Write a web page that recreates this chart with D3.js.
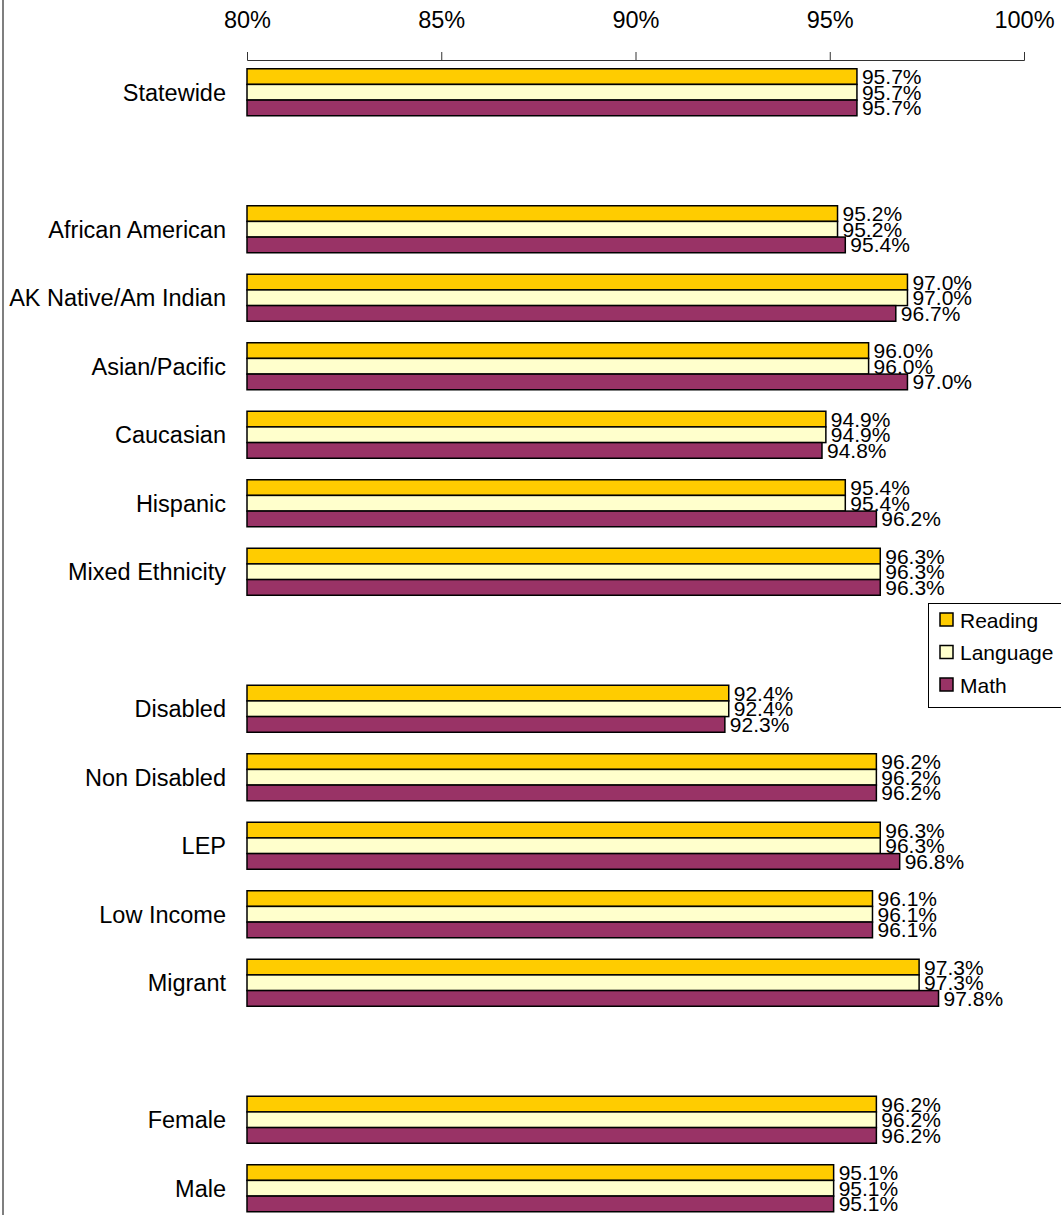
<!DOCTYPE html>
<html>
<head>
<meta charset="utf-8">
<script src="https://cdn.jsdelivr.net/npm/d3@7"></script>
<style>
  html, body { margin: 0; padding: 0; background: #fff; }
  svg { display: block; font-family: "Liberation Sans", Arial, sans-serif; }
</style>
</head>
<body>
<svg id="chart" width="1061" height="1215"></svg>
<script>
// ---- data ----
const groups = [
  ["Statewide"],
  ["African American", "AK Native/Am Indian", "Asian/Pacific", "Caucasian", "Hispanic", "Mixed Ethnicity"],
  ["Disabled", "Non Disabled", "LEP", "Low Income", "Migrant"],
  ["Female", "Male"]
];
const categories = ["Statewide", "African American", "AK Native/Am Indian", "Asian/Pacific", "Caucasian",
  "Hispanic", "Mixed Ethnicity", "Disabled", "Non Disabled", "LEP", "Low Income", "Migrant", "Female", "Male"];
const reading  = [95.7, 95.2, 97.0, 96.0, 94.9, 95.4, 96.3, 92.4, 96.2, 96.3, 96.1, 97.3, 96.2, 95.1];
const language = [95.7, 95.2, 97.0, 96.0, 94.9, 95.4, 96.3, 92.4, 96.2, 96.3, 96.1, 97.3, 96.2, 95.1];
const math     = [95.7, 95.4, 96.7, 97.0, 94.8, 96.2, 96.3, 92.3, 96.2, 96.8, 96.1, 97.8, 96.2, 95.1];
const seriesNames = ["Reading", "Language", "Math"];
const seriesColors = ["#FFCC00", "#FFFFCC", "#993366"];
const tickValues = [80, 85, 90, 95, 100];
const tickLabels = ["80%", "85%", "90%", "95%", "100%"];

const seriesData = [reading, language, math];

// ---- layout ----
const svg = d3.select("#chart");
const xLeft = 247, xRight = 1024, axisY = 60;
const step = 68.5, groupH = 47;

// slot domain with spacer slots between groups
const slots = [];
groups.forEach((g, gi) => {
  if (gi > 0) slots.push("__gap" + gi);
  g.forEach(c => slots.push(c));
});

const x = d3.scaleLinear().domain([80, 100]).range([xLeft, xRight]);
const y = d3.scaleBand().domain(slots).range([58, 58 + step * slots.length]).paddingInner(0).paddingOuter(0);
const ySub = d3.scaleBand().domain(seriesNames).range([0, groupH]);
const bandOffset = (y.bandwidth() - groupH) / 2;

// left border
svg.append("line").attr("x1", 3).attr("x2", 3).attr("y1", 0).attr("y2", 1215)
  .attr("stroke", "#555").attr("stroke-width", 1.5);

// axis
const axis = d3.axisTop(x).tickValues(tickValues)
  .tickFormat((d, i) => tickLabels[i]).tickSize(8).tickSizeOuter(8).tickPadding(24);
const gAxis = svg.append("g").attr("transform", `translate(0,${axisY})`).call(axis);
gAxis.select(".domain").attr("stroke", "#333").attr("stroke-width", 1);
gAxis.selectAll(".tick line").attr("stroke", "#333").attr("stroke-width", 1);
gAxis.selectAll(".tick text").attr("font-size", 23.5).attr("fill", "#000")
  .attr("font-family", '"Liberation Sans", Arial, sans-serif');

// rows
categories.forEach((cat, ci) => {
  const top = y(cat) + bandOffset;
  svg.append("text")
    .attr("x", 226).attr("y", top + groupH / 2)
    .attr("dy", "0.36em").attr("text-anchor", "end")
    .attr("font-size", 23.5).attr("fill", "#000").text(cat);

  seriesNames.forEach((s, si) => {
    const v = seriesData[si][ci];
    const by = top + ySub(s);
    svg.append("rect")
      .attr("x", x(80)).attr("y", by)
      .attr("width", x(v) - x(80)).attr("height", ySub.bandwidth())
      .attr("fill", seriesColors[si]).attr("stroke", "#000").attr("stroke-width", 1.5);
  });
  seriesNames.forEach((s, si) => {
    const v = seriesData[si][ci];
    const by = top + ySub(s);
    svg.append("text")
      .attr("x", x(v) + 5).attr("y", by + ySub.bandwidth() / 2)
      .attr("dy", "0.36em").attr("font-size", 21).attr("fill", "#000")
      .text(v.toFixed(1) + "%");
  });
});

// legend
const lg = svg.append("g");
lg.append("rect").attr("x", 928.5).attr("y", 603.5).attr("width", 150).attr("height", 104)
  .attr("fill", "#fff").attr("stroke", "#000").attr("stroke-width", 1);
seriesNames.forEach((s, i) => {
  const cy = 620 + i * 32.5;
  lg.append("rect").attr("x", 940).attr("y", cy - 7).attr("width", 13).attr("height", 13)
    .attr("fill", seriesColors[i]).attr("stroke", "#000").attr("stroke-width", 1.5);
  lg.append("text").attr("x", 960).attr("y", cy).attr("dy", "0.36em")
    .attr("font-size", 21).attr("fill", "#000").text(s);
});
</script>
</body>
</html>
